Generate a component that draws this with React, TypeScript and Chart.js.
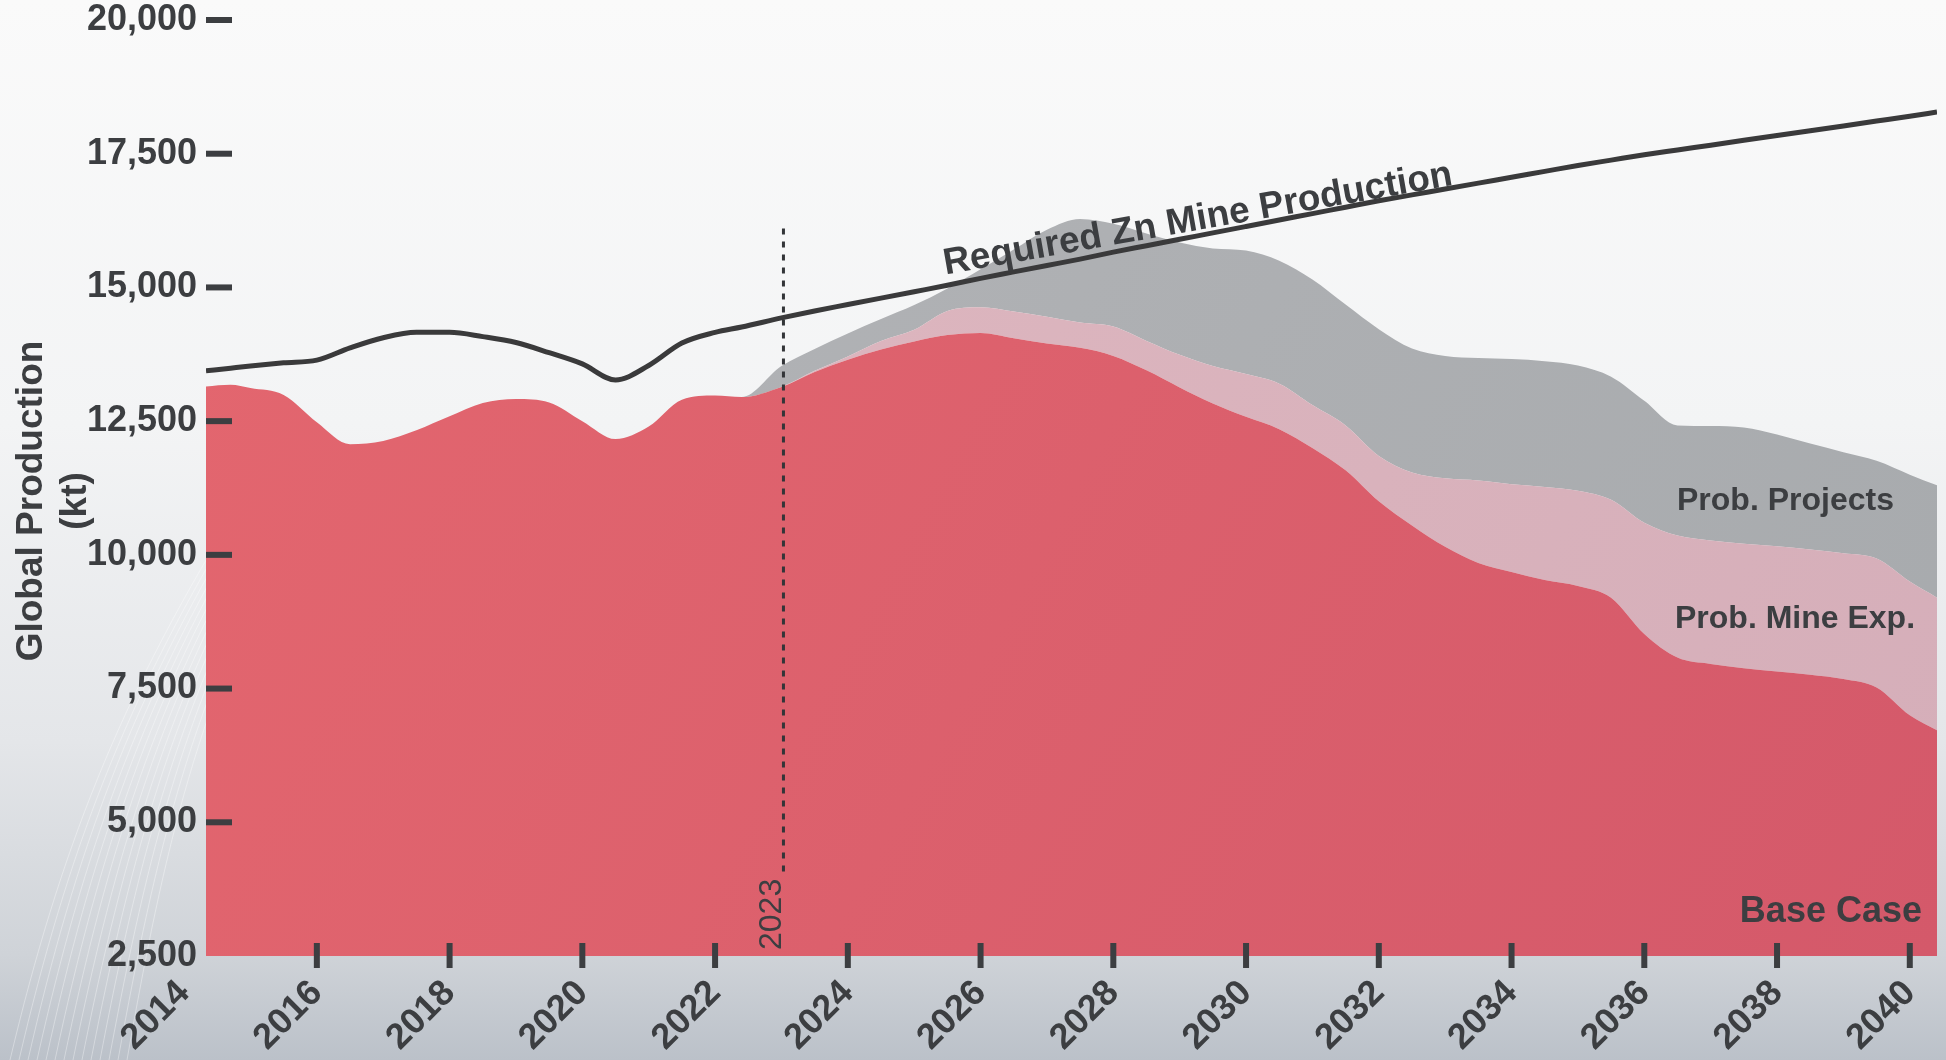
import React, { useEffect, useRef } from 'react';
import { Chart, registerables } from 'chart.js';

Chart.register(...registerables);

// ---- data (kt) ----
const years = [
  2014.33, 2014.7, 2015, 2015.5, 2016, 2016.5, 2017, 2017.5, 2018, 2018.5, 2019, 2019.5,
  2020, 2020.5, 2021, 2021.5, 2022, 2022.4, 2023, 2023.5, 2024, 2024.5, 2025, 2025.5,
  2026, 2026.5, 2027, 2027.5, 2028, 2028.5, 2029, 2029.5, 2030, 2030.5, 2031, 2031.5,
  2032, 2032.5, 2033, 2033.5, 2034, 2034.5, 2035, 2035.5, 2036, 2036.5, 2037, 2037.5,
  2038, 2038.5, 2039, 2039.5, 2040, 2040.41,
];

const baseCase = [
  13150, 13180, 13120, 12990, 12480, 12070, 12130, 12330, 12590, 12840, 12915, 12850,
  12500, 12165, 12400, 12900, 12980, 12950, 13140, 13420, 13650, 13840, 13990, 14110,
  14150, 14050, 13950, 13870, 13720, 13450, 13130, 12830, 12580, 12350, 12000, 11580,
  11000, 10550, 10150, 9850, 9680, 9530, 9420, 9200, 8520, 8080, 7960, 7880,
  7820, 7760, 7680, 7520, 7000, 6720,
];

const mineExpansion = [
  0, 0, 0, 0, 0, 0, 0, 0, 0, 0, 0, 0,
  0, 0, 0, 0, 0, 0, 0, 20, 60, 160, 220, 450,
  480, 500, 500, 475, 550, 550, 610, 700, 800, 850, 800, 840,
  850, 990, 1280, 1540, 1640, 1740, 1780, 1830, 2080, 2280, 2310, 2330,
  2340, 2340, 2350, 2410, 2500, 2480,
];

const newProjects = [
  0, 0, 0, 0, 0, 0, 0, 0, 0, 0, 0, 0,
  0, 0, 0, 0, 0, 0, 390, 410, 430, 410, 460, 420,
  710, 1160, 1630, 1935, 1920, 2010, 2100, 2200, 2310, 2300, 2350, 2260,
  2370, 2320, 2290, 2290, 2340, 2350, 2340, 2300, 2280, 2060, 2140, 2170,
  2090, 1980, 1890, 1830, 2000, 2100,
];

const requiredProduction = [
  13440, 13490, 13530, 13590, 13640, 13870, 14060, 14160, 14160, 14080, 13970, 13780,
  13570, 13270, 13540, 13960, 14160, 14260, 14430, 14560, 14680, 14800, 14920, 15040,
  15170, 15290, 15410, 15530, 15660, 15780, 15900, 16020, 16140, 16260, 16380, 16500,
  16620, 16730, 16840, 16950, 17060, 17170, 17280, 17380, 17480, 17570, 17660, 17750,
  17840, 17930, 18020, 18110, 18200, 18280,
];

const yearTicks = [2014, 2016, 2018, 2020, 2022, 2024, 2026, 2028, 2030, 2032, 2034, 2036, 2038, 2040];
const valueTicks = [2500, 5000, 7500, 10000, 12500, 15000, 17500, 20000];
const cutoffYear = 2023;

// ---- styling ----
const FONT = '"Liberation Sans", Arial, Helvetica, sans-serif';
const INK = '#3c3e41';

function areaFill(c1: string, c2: string) {
  return (context: any) => {
    const chart = context.chart;
    const area = chart.chartArea;
    if (!area) return c1;
    const g = chart.ctx.createLinearGradient(area.left, area.top, area.right, area.bottom);
    g.addColorStop(0, c1);
    g.addColorStop(1, c2);
    return g;
  };
}

const toPoints = (vals: number[]) => years.map((x, i) => ({ x, y: vals[i] }));

const decorPlugin = {
  id: 'decor',
  beforeDraw(chart: any) {
    const { ctx, width, height } = chart;
    ctx.save();
    const g = ctx.createLinearGradient(0, 0, 0, height);
    g.addColorStop(0, '#fafafa');
    g.addColorStop(0.4, '#f3f4f5');
    g.addColorStop(0.7, '#e4e6e9');
    g.addColorStop(0.9, '#cfd3d8');
    g.addColorStop(1, '#bbc1c9');
    ctx.fillStyle = g;
    ctx.fillRect(0, 0, width, height);
    // faint light swooshes in the lower-left background
    ctx.strokeStyle = 'rgba(255,255,255,0.35)';
    ctx.lineWidth = 1;
    for (let i = 0; i < 14; i++) {
      ctx.beginPath();
      ctx.moveTo(10 + i * 9, height);
      ctx.bezierCurveTo(60 + i * 8, 850, 120 + i * 6, 700, 230 + i * 5, 520);
      ctx.stroke();
    }
    ctx.restore();
  },
  afterDatasetsDraw(chart: any) {
    const { ctx, chartArea } = chart;
    const xs = chart.scales.x;
    const ys = chart.scales.y;
    ctx.save();

    // cutoff dotted line + label
    const cx = xs.getPixelForValue(cutoffYear) + 2;
    ctx.font = `normal 32px ${FONT}`;
    const labelW = ctx.measureText(String(cutoffYear)).width;
    const labelStart = chartArea.bottom - 6;
    ctx.strokeStyle = '#333538';
    ctx.lineWidth = 3;
    ctx.setLineDash([6, 7]);
    ctx.beginPath();
    ctx.moveTo(cx, ys.getPixelForValue(16100));
    ctx.lineTo(cx, labelStart - labelW - 4);
    ctx.stroke();
    ctx.setLineDash([]);
    ctx.save();
    ctx.translate(cx - 2, labelStart);
    ctx.rotate(-Math.PI / 2);
    ctx.fillStyle = INK;
    ctx.textAlign = 'left';
    ctx.textBaseline = 'alphabetic';
    ctx.fillText(String(cutoffYear), 0, 0);
    ctx.restore();

    // tick marks
    ctx.fillStyle = INK;
    valueTicks.forEach((v) => {
      if (v <= ys.min) return;
      const py = ys.getPixelForValue(v);
      ctx.fillRect(chartArea.left, py - 3, 26, 6);
    });
    yearTicks.forEach((t) => {
      const px = xs.getPixelForValue(t);
      if (px < chartArea.left || px > chartArea.right) return;
      ctx.fillRect(px - 3, chartArea.bottom - 13, 6, 25);
    });

    // series annotations
    ctx.fillStyle = INK;
    ctx.textBaseline = 'alphabetic';
    ctx.save();
    ctx.translate(xs.getPixelForValue(2029.3), ys.getPixelForValue(16080));
    ctx.rotate((-10 * Math.PI) / 180);
    ctx.font = `bold 37px ${FONT}`;
    ctx.textAlign = 'center';
    ctx.fillText('Required Zn Mine Production', 0, 0);
    ctx.restore();

    ctx.font = `bold 32px ${FONT}`;
    ctx.textAlign = 'left';
    ctx.fillText('Prob. Projects', 1677, 510);
    ctx.fillText('Prob. Mine Exp.', 1675, 628);
    ctx.font = `bold 36px ${FONT}`;
    ctx.textAlign = 'right';
    ctx.fillText('Base Case', 1922, 922);

    // y axis title
    ctx.save();
    ctx.translate(32, (chartArea.top + chartArea.bottom) / 2 + 13);
    ctx.rotate(-Math.PI / 2);
    ctx.font = `bold 37px ${FONT}`;
    ctx.textAlign = 'center';
    ctx.textBaseline = 'middle';
    ctx.fillText('Global Production', 0, 0);
    ctx.fillText('(kt)', 0, 44);
    ctx.restore();

    ctx.restore();
  },
};

export default function App() {
  const ref = useRef<HTMLCanvasElement>(null);

  useEffect(() => {
    const canvas = ref.current;
    if (!canvas) return;
    const chart = new Chart(canvas, {
      type: 'line',
      data: {
        datasets: [
          {
            label: 'Base Case',
            data: toPoints(baseCase),
            stack: 'supply',
            fill: 'origin',
            backgroundColor: areaFill('#e4676f', '#d4596a'),
            borderColor: 'transparent',
            borderWidth: 0,
            pointRadius: 0,
            cubicInterpolationMode: 'monotone',
            order: 1,
          },
          {
            label: 'Prob. Mine Exp.',
            data: toPoints(mineExpansion),
            stack: 'supply',
            fill: '-1',
            backgroundColor: areaFill('#e0b9c1', '#d5aeb9'),
            borderColor: 'transparent',
            borderWidth: 0,
            pointRadius: 0,
            cubicInterpolationMode: 'monotone',
            order: 1,
          },
          {
            label: 'Prob. Projects',
            data: toPoints(newProjects),
            stack: 'supply',
            fill: '-1',
            backgroundColor: areaFill('#b4b5b8', '#a7aaad'),
            borderColor: 'transparent',
            borderWidth: 0,
            pointRadius: 0,
            cubicInterpolationMode: 'monotone',
            order: 1,
          },
          {
            label: 'Required Zn Mine Production',
            data: toPoints(requiredProduction),
            stack: 'required',
            fill: false,
            borderColor: '#3a3a3b',
            borderWidth: 5,
            pointRadius: 0,
            cubicInterpolationMode: 'monotone',
            order: 0,
          },
        ] as any,
      },
      options: {
        animation: false,
        responsive: false,
        events: [],
        layout: { padding: { top: 20, right: 9, left: 0, bottom: 0 } },
        plugins: {
          legend: { display: false },
          tooltip: { enabled: false },
        },
        scales: {
          x: {
            type: 'linear',
            min: years[0],
            max: years[years.length - 1],
            grid: { display: false, drawTicks: false },
            border: { display: false },
            afterBuildTicks: (s: any) => {
              s.ticks = yearTicks.map((v) => ({ value: v }));
            },
            afterFit: (s: any) => {
              s.height = 104;
              s.paddingLeft = 0;
              s.paddingRight = 0;
            },
            ticks: {
              autoSkip: false,
              minRotation: 45,
              maxRotation: 45,
              padding: 16,
              color: INK,
              font: { family: FONT, size: 36, weight: 'bold' },
              callback: (v: any) => String(v),
            },
          },
          y: {
            type: 'linear',
            stacked: true,
            min: valueTicks[0],
            max: valueTicks[valueTicks.length - 1],
            grid: { display: false, drawTicks: false },
            border: { display: false },
            afterBuildTicks: (s: any) => {
              s.ticks = valueTicks.map((v) => ({ value: v }));
            },
            afterFit: (s: any) => {
              s.width = 206;
              s.paddingTop = 0;
              s.paddingBottom = 0;
            },
            ticks: {
              padding: 9,
              color: INK,
              font: { family: FONT, size: 36, weight: 'bold' },
              callback: (v: any) => Number(v).toLocaleString('en-US'),
            },
          },
        },
      } as any,
      plugins: [decorPlugin],
    });
    return () => chart.destroy();
  }, []);

  return (
    <div style={{ position: 'absolute', left: 0, top: 0, width: 1946, height: 1060 }}>
      <canvas ref={ref} width={1946} height={1060} style={{ display: 'block', width: 1946, height: 1060 }} />
    </div>
  );
}
